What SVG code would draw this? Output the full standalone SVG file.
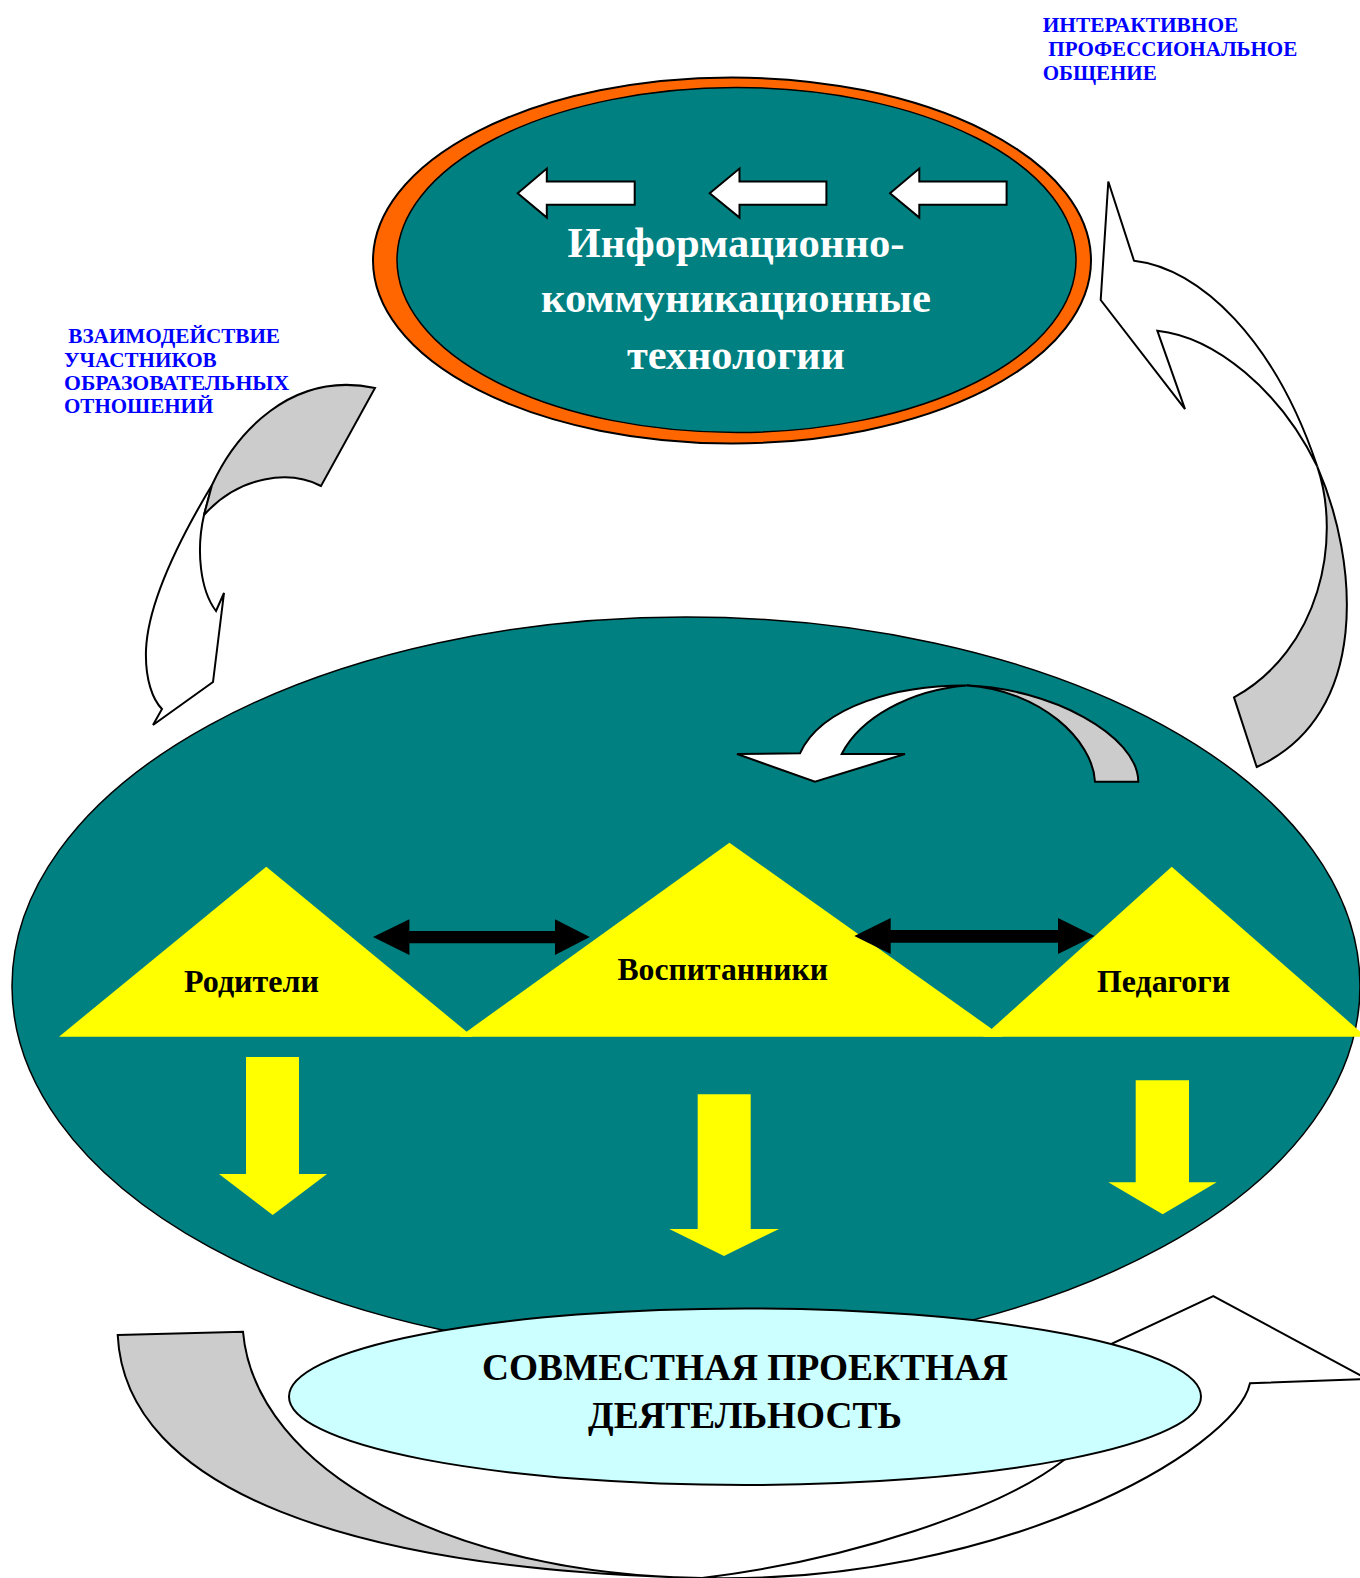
<svg xmlns="http://www.w3.org/2000/svg" width="1360" height="1578" viewBox="0 0 1360 1578">
<style>
.serif{font-family:"Liberation Serif","Times New Roman",serif;font-weight:bold}
.blue{fill:#0000FF;font-size:21px}
.wt{fill:#FFFFFF;font-size:43px}
.lbl{fill:#000000;font-size:32px}
.big{fill:#000000;font-size:37px}
.ol{stroke:#000000;stroke-width:2;stroke-linejoin:miter}
.wf{fill:#FFFFFF}
.gf{fill:#CCCCCC}
.yl{fill:#FFFF00}
.bk{fill:#000000}
</style>
<rect width="1360" height="1578" fill="#FFFFFF"/>

<g id="label-interactive">
<text class="serif blue" x="1042.7" y="31.7" textLength="195.6" lengthAdjust="spacingAndGlyphs">ИНТЕРАКТИВНОЕ</text>
<text class="serif blue" x="1048.3" y="56" textLength="249" lengthAdjust="spacingAndGlyphs">ПРОФЕССИОНАЛЬНОЕ</text>
<text class="serif blue" x="1042.7" y="80" textLength="114" lengthAdjust="spacingAndGlyphs">ОБЩЕНИЕ</text>
</g>
<g id="label-interaction">
<text class="serif blue" x="68.3" y="343.3" textLength="211.7" lengthAdjust="spacingAndGlyphs">ВЗАИМОДЕЙСТВИЕ</text>
<text class="serif blue" x="64" y="366.7" textLength="152.7" lengthAdjust="spacingAndGlyphs">УЧАСТНИКОВ</text>
<text class="serif blue" x="64" y="390" textLength="225.3" lengthAdjust="spacingAndGlyphs">ОБРАЗОВАТЕЛЬНЫХ</text>
<text class="serif blue" x="64" y="412.7" textLength="149.3" lengthAdjust="spacingAndGlyphs">ОТНОШЕНИЙ</text>
</g>

<g id="node-ict">
<ellipse cx="732" cy="260.5" rx="359" ry="183" fill="#FF6600" class="ol"/>
<ellipse cx="736.5" cy="260" rx="339.5" ry="172.5" fill="#008080" stroke="#000000" stroke-width="1.5"/>
<polygon class="wf ol" points="517.7,193.3 546.8,168.6 546.8,181.4 634.7,181.4 634.7,204.8 546.8,204.8 546.8,217.6"/>
<polygon class="wf ol" points="709.7,193.3 739.5,168.6 739.5,181.4 826.4,181.4 826.4,204.8 739.5,204.8 739.5,217.6"/>
<polygon class="wf ol" points="890,193.3 919.3,168.6 919.3,181.4 1006.6,181.4 1006.6,204.8 919.3,204.8 919.3,217.6"/>
<text class="serif wt" x="736" y="256.5" text-anchor="middle" textLength="337" lengthAdjust="spacingAndGlyphs">Информационно-</text>
<text class="serif wt" x="736" y="312" text-anchor="middle" textLength="390" lengthAdjust="spacingAndGlyphs">коммуникационные</text>
<text class="serif wt" x="736" y="369" text-anchor="middle" textLength="218" lengthAdjust="spacingAndGlyphs">технологии</text>
</g>

<g id="node-participants">
<ellipse cx="686" cy="986" rx="674" ry="369" fill="#008080" stroke="#000000" stroke-width="1.5"/>
</g>

<g id="node-parents">
<polygon class="yl" points="59,1036.7 266.3,866.7 472.7,1036.7"/>
<text class="serif lbl" x="251.5" y="992" text-anchor="middle" textLength="135" lengthAdjust="spacingAndGlyphs">Родители</text>
</g>
<g id="node-pupils">
<polygon class="yl" points="459.6,1036.7 729.4,842.7 1002.8,1036.7"/>
<text class="serif lbl" x="722.7" y="980" text-anchor="middle" textLength="210.5" lengthAdjust="spacingAndGlyphs">Воспитанники</text>
</g>
<g id="node-teachers">
<polygon class="yl" points="983,1036.7 1171.7,866.7 1366,1036.7"/>
<text class="serif lbl" x="1163.5" y="992" text-anchor="middle" textLength="133" lengthAdjust="spacingAndGlyphs">Педагоги</text>
</g>

<g id="connectors">
<!-- left curved arrow -->
<path class="wf ol" d="M212,485 C185,530 148,600 146,650 C145,680 153,700 162,709 L153,725 L213,682 L224,593 L216,611 C200,590 196,550 204,515 Z"/>
<path class="gf ol" d="M212,485 C235,435 290,370 375,388 L321,486 C290,470 240,475 204,515 Z"/>
<!-- right curved arrow -->
<path class="wf ol" d="M1134,260.7 L1108.3,181.5 L1100.7,300 L1185,409.2 L1157.3,330.7 C1215,337 1280,390 1317.3,466.6 C1275,340 1200,268 1134,260.7 Z"/>
<path class="gf ol" d="M1317.3,466.6 C1358,560 1372,715 1256.7,767 L1234,697.4 C1320,650 1342,540 1317.3,466.6 Z"/>
<!-- inner curved arrow -->
<path class="wf ol" d="M737,754 L815,781.7 L905,754 L841.7,754 C860,718 910,690 966.7,685.5 C900,685 822,705 800,753.3 Z"/>
<path class="gf ol" d="M966.7,685.5 C1050,688 1138,735 1138.3,781.7 L1095,781.7 C1093,740 1040,690 966.7,685.5 Z"/>
<!-- double arrows -->
<polygon class="bk" points="373,937 409.4,919.3 409.4,931 555,931 555,919.3 589.8,937 555,955 555,943.3 409.4,943.3 409.4,955"/>
<polygon class="bk" points="854.3,936 890.7,918 890.7,930 1058,930 1058,918 1094.5,936 1058,954 1058,942.7 890.7,942.7 890.7,954"/>
<!-- yellow down arrows -->
<polygon class="yl" points="246,1057 299,1057 299,1174 327,1174 272.7,1215 219,1174 246,1174"/>
<polygon class="yl" points="697.7,1094.3 750.7,1094.3 750.7,1229 779,1229 724,1256 669.3,1229 697.7,1229"/>
<polygon class="yl" points="1135.7,1080.3 1189,1080.3 1189,1182.3 1216.7,1182.3 1162.7,1214.3 1108.3,1182.3 1135.7,1182.3"/>
<!-- bottom ribbon arrow -->
<path class="gf ol" d="M117.7,1335 L243,1331.7 C255,1470 450,1575 702,1578 C350,1570 125,1490 117.7,1335 Z"/>
<path class="wf ol" d="M702,1578 C1000,1585 1235,1450 1250,1383.3 L1367,1379 L1213.3,1296 L1060,1368 C1075,1400 1085,1440 1064,1460 C1000,1510 850,1560 702,1578 Z"/>
</g>

<g id="node-project">
<ellipse cx="745" cy="1396.7" rx="456" ry="88.3" fill="#CCFFFF" class="ol"/>
<text class="serif big" x="745" y="1380" text-anchor="middle" textLength="526" lengthAdjust="spacingAndGlyphs">СОВМЕСТНАЯ ПРОЕКТНАЯ</text>
<text class="serif big" x="745" y="1428.3" text-anchor="middle" textLength="314" lengthAdjust="spacingAndGlyphs">ДЕЯТЕЛЬНОСТЬ</text>
</g>
</svg>
